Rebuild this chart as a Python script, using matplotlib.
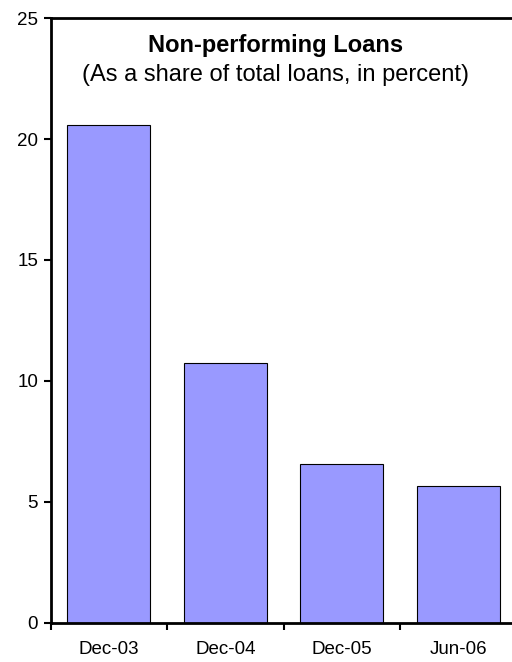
import matplotlib.pyplot as plt

# datos del gráfico
periodos = ['Dec-03', 'Dec-04', 'Dec-05', 'Jun-06']
npl = [20.6, 10.75, 6.58, 5.67]

plt.rcParams['font.family'] = ['Liberation Sans', 'DejaVu Sans']

fig = plt.figure(figsize=(5.12, 6.62), dpi=100)
ax = fig.add_axes([50.7 / 512, 39.3 / 662, 465.6 / 512, 604.5 / 662])

x = range(len(periodos))
ax.bar(x, npl, width=0.713, color='#9999FF', edgecolor='black', linewidth=0.8)

ax.set_xlim(-0.5, 3.5)
ax.set_ylim(0, 25)
ax.set_yticks([0, 5, 10, 15, 20, 25])
ax.set_xticks(list(x))
ax.set_xticklabels(periodos)
ax.set_xticks([-0.5, 0.5, 1.5, 2.5], minor=True)

ax.tick_params(axis='x', which='major', length=0, pad=13, labelsize=13.5)
ax.tick_params(axis='x', which='minor', length=5, width=1.5, direction='out')
ax.tick_params(axis='y', length=5, width=1.5, direction='out', pad=4, labelsize=13.5)

for lado in ['left', 'bottom', 'top']:
    ax.spines[lado].set_linewidth(2)
ax.spines['right'].set_visible(False)

ax.text(0.483, 0.944, 'Non-performing Loans', transform=ax.transAxes,
        ha='center', va='baseline', fontsize=17, fontweight='bold')
ax.text(0.483, 0.896, '(As a share of total loans, in percent)', transform=ax.transAxes,
        ha='center', va='baseline', fontsize=17)

plt.savefig('out.png', dpi=100)
